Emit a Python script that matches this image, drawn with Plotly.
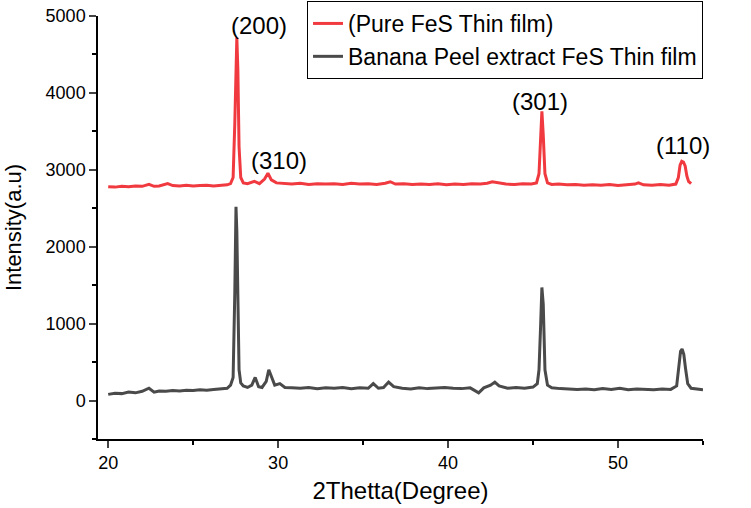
import plotly.graph_objects as go

# Pure FeS thin film (red)
pure_x = [20.0, 20.4, 20.8, 21.2, 21.6, 22.0, 22.4, 22.7, 23.0, 23.5, 23.8, 24.2, 24.6, 25.0,
          25.4, 25.8, 26.2, 26.6, 27.0, 27.2, 27.35, 27.45, 27.52, 27.57, 27.63, 27.7, 27.8,
          27.95, 28.2, 28.6, 28.9, 29.2, 29.4, 29.6, 29.9, 30.3, 30.8, 31.3, 31.8, 32.3,
          32.8, 33.3, 33.8, 34.3, 34.8, 35.3, 35.8, 36.3, 36.6, 36.9, 37.4, 37.9, 38.4,
          38.9, 39.4, 39.9, 40.4, 40.9, 41.4, 41.9, 42.3, 42.6, 42.9, 43.4, 43.9, 44.4,
          44.9, 45.2, 45.35, 45.45, 45.52, 45.6, 45.7, 45.85, 46.1, 46.5, 47.0, 47.5, 48.0,
          48.5, 49.0, 49.5, 50.0, 50.5, 51.0, 51.2, 51.5, 52.0, 52.5, 53.0, 53.4, 53.55,
          53.65, 53.75, 53.85, 53.95, 54.05, 54.15, 54.3]
pure_y = [2780, 2775, 2785, 2780, 2790, 2785, 2810, 2785, 2790, 2820, 2795, 2790, 2800, 2790,
          2795, 2800, 2790, 2800, 2805, 2820, 2900, 3600, 4550, 4720, 4300, 3300, 2900,
          2830, 2820, 2850, 2820, 2880, 2955, 2870, 2830, 2825, 2815, 2825, 2810, 2820,
          2815, 2820, 2810, 2825, 2815, 2820, 2810, 2825, 2845, 2815, 2820, 2810, 2815,
          2810, 2820, 2805, 2815, 2810, 2820, 2815, 2825, 2845, 2830, 2815, 2810, 2820,
          2815, 2830, 2950, 3500, 3760, 3450, 2950, 2830, 2810, 2815, 2805, 2810, 2800,
          2805, 2800, 2810, 2795, 2805, 2815, 2830, 2805, 2800, 2810, 2800, 2815, 2900,
          3060, 3110, 3100, 3050, 2920, 2850, 2820]

# Banana peel extract FeS thin film (dark grey)
bp_x = [20.0, 20.4, 20.8, 21.2, 21.6, 22.0, 22.4, 22.7, 23.0, 23.4, 23.8, 24.2, 24.6, 25.0,
        25.4, 25.8, 26.2, 26.6, 27.0, 27.2, 27.35, 27.45, 27.52, 27.57, 27.63, 27.7, 27.8,
        27.95, 28.2, 28.45, 28.65, 28.85, 29.05, 29.3, 29.45, 29.6, 29.8, 30.1, 30.4, 30.8,
        31.3, 31.8, 32.3, 32.8, 33.3, 33.8, 34.3, 34.8, 35.3, 35.6, 35.9, 36.2, 36.5,
        36.8, 37.3, 37.8, 38.3, 38.8, 39.3, 39.8, 40.3, 40.8, 41.3, 41.8, 42.1, 42.5,
        42.75, 43.0, 43.5, 44.0, 44.5, 45.0, 45.25, 45.35, 45.45, 45.52, 45.6, 45.7,
        45.85, 46.1, 46.6, 47.1, 47.6, 48.1, 48.6, 49.1, 49.6, 50.1, 50.6, 51.1, 51.6,
        52.1, 52.6, 53.1, 53.45, 53.58, 53.68, 53.77, 53.87, 53.97, 54.1, 54.3, 54.6, 55.0]
bp_y = [80, 95, 90, 110, 100, 120, 160, 110, 125, 120, 130, 125, 135, 130,
        140, 135, 145, 150, 160, 200, 300, 1400, 2520, 2200, 1200, 400, 230,
        190, 170, 200, 300, 180, 170, 250, 400, 320, 200, 220, 170, 165,
        160, 170, 155, 165, 160, 170, 155, 165, 160, 220, 160, 170, 240,
        180, 160, 150, 165, 155, 160, 170, 160, 155, 165, 100, 165, 200,
        240, 190, 160, 170, 160, 175, 220, 400, 1000, 1470, 1250, 400,
        200, 165, 155, 150, 145, 150, 140, 155, 145, 160, 140, 150, 145,
        140, 150, 145, 190, 420, 640, 670, 600, 420, 220, 160, 150, 140]

labels = ["(200)", "(310)", "(301)", "(110)"]
label_x = [28.9, 30.05, 45.4, 53.8]
label_y = [4880, 3120, 3890, 3310]

font_family = "Liberation Sans, Arial, sans-serif"

fig = go.Figure()
fig.add_trace(go.Scatter(x=pure_x, y=pure_y, mode="lines", name="(Pure FeS Thin film)",
                         line=dict(color="rgb(240,58,64)", width=3)))
fig.add_trace(go.Scatter(x=bp_x, y=bp_y, mode="lines", name="Banana Peel extract FeS Thin film",
                         line=dict(color="rgb(74,74,74)", width=3)))

for t, xx, yy in zip(labels, label_x, label_y):
    fig.add_annotation(x=xx, y=yy, text=t, showarrow=False,
                       font=dict(size=24, color="black", family=font_family))

fig.update_layout(
    width=751, height=508,
    margin=dict(l=98, r=48, t=16, b=69, autoexpand=False),
    paper_bgcolor="white", plot_bgcolor="white",
    font=dict(family=font_family, color="black"),
    legend=dict(x=0.3455, y=1.0355, xanchor="left", yanchor="top",
                bordercolor="black", borderwidth=1, bgcolor="white",
                font=dict(size=23, family=font_family),
                tracegroupgap=0),
    showlegend=True,
)
fig.update_xaxes(range=[19.4, 55], tickvals=[20, 30, 40, 50], ticks="outside", ticklen=7,
                 tickwidth=1.5, showline=True, linecolor="black", linewidth=1.5,
                 showgrid=False, zeroline=False, mirror=False, automargin=False,
                 tickfont=dict(size=18),
                 minor=dict(tickvals=[25, 35, 45, 55], ticks="outside", ticklen=4,
                            tickwidth=1.5, tickcolor="black"),
                 title=dict(text="2Thetta(Degree)", font=dict(size=24), standoff=10))
fig.update_yaxes(range=[-500, 5000], tickvals=[0, 1000, 2000, 3000, 4000, 5000],
                 ticks="outside", ticklen=7, tickwidth=1.5, showline=True,
                 linecolor="black", linewidth=1.5, showgrid=False, zeroline=False,
                 automargin=False, tickfont=dict(size=18),
                 minor=dict(tickvals=[-500, 500, 1500, 2500, 3500, 4500], ticks="outside",
                            ticklen=4, tickwidth=1.5, tickcolor="black"),
                 title=dict(text="Intensity(a.u)", font=dict(size=22), standoff=18))

fig.write_html("out.html", config={"displayModeBar": False},
               post_script="document.body.style.margin='0';")
